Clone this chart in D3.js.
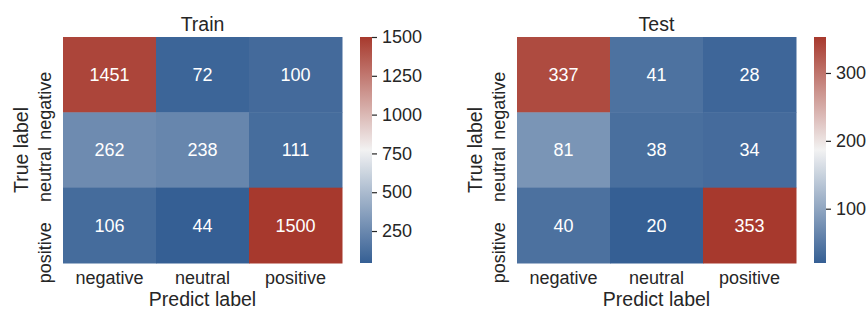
<!DOCTYPE html>
<html>
<head>
<meta charset="utf-8">
<script src="https://cdn.jsdelivr.net/npm/d3@7"></script>
<style>
  body { margin: 0; background: #fff; }
  svg text { font-family: "Liberation Sans", Arial, sans-serif; fill: #262626; }
</style>
</head>
<body>
<div id="container"></div>
<script>
//---------------------------------------------------------
// DATA

const classes = ["negative", "neutral", "positive"]

const trainMatrix = [
  [1451, 72, 100],
  [262, 238, 111],
  [106, 44, 1500]
]

const testMatrix = [
  [337, 41, 28],
  [81, 38, 34],
  [40, 20, 353]
]

const trainTicks = [250, 500, 750, 1000, 1250, 1500]
const testTicks = [100, 200, 300]

// //------------------------------------------------------
// // MISC SETUP

const width = 867
const height = 310
const lowColor = "#355f94"
const midColor = "#f2f2f2"
const highColor = "#a7392d"

const svg = d3.select('#container').append('svg')
  .attr('width', width)
  .attr('height', height)

//---------------------------------------------------------
// DRAWING

function drawPanel({ matrix, title, ticks, left, id }) {
  const top = 37
  const size = 279
  const h = 226
  const cbLeft = left + 297
  const cbWidth = 12

  const flat = matrix.flat()
  const min = d3.min(flat)
  const max = d3.max(flat)

  const color = d3.scaleLinear()
    .domain([min, (min + max) / 2, max])
    .range([lowColor, midColor, highColor])

  const x = d3.scaleBand().domain(classes).range([left, left + size])
  const y = d3.scaleBand().domain(classes).range([top, top + h])

  const g = svg.append('g')

  const cells = matrix.flatMap((row, i) => row.map((v, j) => ({ row: classes[i], col: classes[j], value: v })))

  g.selectAll('rect.cell')
    .data(cells)
    .join('rect')
    .attr('class', 'cell')
    .attr('x', d => x(d.col))
    .attr('y', d => y(d.row))
    .attr('width', x.bandwidth() + 0.5)
    .attr('height', y.bandwidth() + 0.5)
    .attr('fill', d => color(d.value))

  g.selectAll('text.annot')
    .data(cells)
    .join('text')
    .attr('class', 'annot')
    .attr('x', d => x(d.col) + x.bandwidth() / 2)
    .attr('y', d => y(d.row) + y.bandwidth() / 2)
    .attr('dy', '0.35em')
    .attr('text-anchor', 'middle')
    .style('font-size', '18px')
    .style('fill', '#fff')
    .text(d => d.value)

  // x tick labels
  g.selectAll('text.xtick')
    .data(classes)
    .join('text')
    .attr('class', 'xtick')
    .attr('x', d => x(d) + x.bandwidth() / 2)
    .attr('y', 284)
    .attr('text-anchor', 'middle')
    .style('font-size', '18px')
    .text(d => d)

  // y tick labels (rotated, top end near row centre)
  g.selectAll('text.ytick')
    .data(classes)
    .join('text')
    .attr('class', 'ytick')
    .attr('transform', d => `translate(${left - 12},${y(d) + y.bandwidth() / 2 - 3}) rotate(-90)`)
    .attr('text-anchor', 'end')
    .style('font-size', '18px')
    .text(d => d)

  g.append('text')
    .attr('x', left + size / 2)
    .attr('y', 31)
    .attr('text-anchor', 'middle')
    .style('font-size', '19.5px')
    .text(title)

  g.append('text')
    .attr('x', left + size / 2)
    .attr('y', 306)
    .attr('text-anchor', 'middle')
    .style('font-size', '19.5px')
    .text('Predict label')

  g.append('text')
    .attr('transform', `translate(${left - 35},${top + h / 2}) rotate(-90)`)
    .attr('text-anchor', 'middle')
    .style('font-size', '19.5px')
    .text('True label')

  // //------------------------------------------------------
  // // COLORBAR

  const grad = svg.append('defs').append('linearGradient')
    .attr('id', id)
    .attr('x1', 0).attr('y1', 1).attr('x2', 0).attr('y2', 0)

  d3.range(0, 1.0001, 0.05).forEach(t => {
    grad.append('stop')
      .attr('offset', t)
      .attr('stop-color', color(min + t * (max - min)))
  })

  g.append('rect')
    .attr('x', cbLeft)
    .attr('y', top)
    .attr('width', cbWidth)
    .attr('height', h)
    .attr('fill', `url(#${id})`)

  const cbScale = d3.scaleLinear().domain([min, max]).range([top + h, top])

  const cbAxis = g.append('g')
    .attr('transform', `translate(${cbLeft + cbWidth},0)`)
    .call(d3.axisRight(cbScale).tickValues(ticks).tickFormat(d3.format('d')).tickSize(5).tickPadding(5))

  cbAxis.select('.domain').remove()
  cbAxis.selectAll('.tick line').attr('stroke', '#262626').attr('stroke-width', 1.2)
  cbAxis.selectAll('.tick text')
    .attr('fill', '#262626')
    .style('font-size', '18px')
    .style('font-family', '"Liberation Sans", Arial, sans-serif')
}

drawPanel({ matrix: trainMatrix, title: 'Train', ticks: trainTicks, left: 63, id: 'gradTrain' })
drawPanel({ matrix: testMatrix, title: 'Test', ticks: testTicks, left: 517, id: 'gradTest' })
</script>
</body>
</html>
